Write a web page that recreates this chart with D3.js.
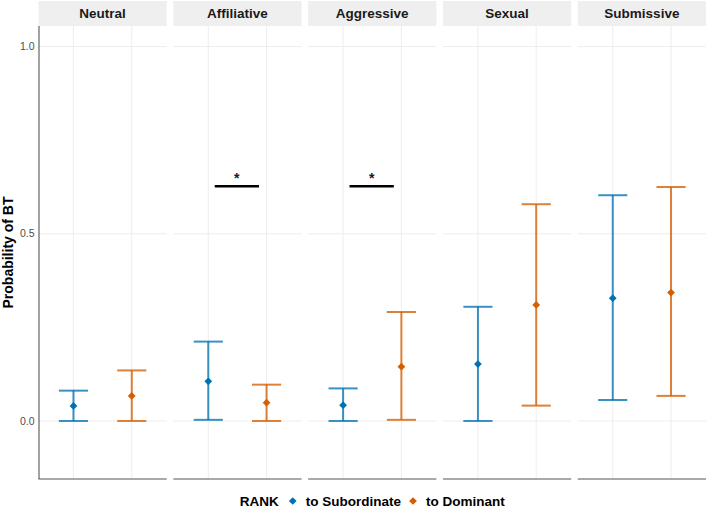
<!DOCTYPE html>
<html><head><meta charset="utf-8">
<script src="https://cdn.jsdelivr.net/npm/d3@7"></script>
<style>body{margin:0;background:#fff} svg{display:block;font-family:"Liberation Sans",Arial,sans-serif}</style>
</head><body><svg id="c" width="708" height="510"></svg>
<script>
// ---- data ----
const behaviours = ["Neutral","Affiliative","Aggressive","Sexual","Submissive"];
const ranks = ["to Subordinate","to Dominant"];
const estSub = [0.040,0.106,0.042,0.152,0.328];
const lowSub = [0.000,0.003,0.000,0.000,0.056];
const upSub  = [0.081,0.212,0.087,0.305,0.603];
const estDom = [0.067,0.049,0.145,0.310,0.343];
const lowDom = [0.000,0.000,0.003,0.041,0.067];
const upDom  = [0.135,0.097,0.291,0.579,0.625];
const sigPanels = ["Affiliative","Aggressive"];
const sigY = 0.627;
const sigLabel = "*";
const yTicks = [0,0.5,1.0];
const yTickLabels = ["0.0","0.5","1.0"];
const legendTitle = "RANK";
const yTitle = "Probability of BT";
const pointColors = ["#0072B2","#D55E00"];

// ---- layout ----
(function(){
const svg = d3.select("#c");
const pTop = 26, pBottom = 479, pLeft = 38.5, pRight = 706, stripTop = 1;
const y = d3.scaleLinear().domain([-0.155,1.055]).range([pBottom, pTop]);
const fx = d3.scaleBand().domain(behaviours).range([pLeft,pRight]).paddingInner(0.049);
const bw = fx.bandwidth();
const x = d3.scalePoint().domain(ranks).range([0,bw]).padding(0.6);
const step = x.step();
const color = d3.scaleOrdinal().domain(ranks).range(pointColors);

const rows = [];
behaviours.forEach((b,i)=>{
  rows.push({b, r:ranks[0], est:estSub[i], lo:lowSub[i], hi:upSub[i]});
  rows.push({b, r:ranks[1], est:estDom[i], lo:lowDom[i], hi:upDom[i]});
});

const diamond = d3.symbol().type(d3.symbolSquare).size(30);

behaviours.forEach(b=>{
  const g = svg.append("g").attr("transform",`translate(${fx(b)},0)`);
  g.append("rect").attr("x",0).attr("y",stripTop).attr("width",bw).attr("height",pTop-stripTop).attr("fill","#efefef");
  g.append("text").attr("x",bw/2).attr("y",(stripTop+pTop)/2).attr("dy","0.36em")
    .attr("text-anchor","middle").attr("font-weight","bold").attr("font-size",13.5).attr("fill","#1a1a1a").text(b);
  g.selectAll("line.gy").data(yTicks).join("line").attr("class","gy").attr("x1",0).attr("x2",bw)
    .attr("y1",d=>y(d)).attr("y2",d=>y(d)).attr("stroke","#ebebeb").attr("stroke-width",0.9);
  g.selectAll("line.gx").data(ranks).join("line").attr("class","gx").attr("x1",d=>x(d)).attr("x2",d=>x(d))
    .attr("y1",pTop).attr("y2",pBottom).attr("stroke","#ebebeb").attr("stroke-width",0.9);
  g.append("line").attr("x1",0).attr("x2",bw).attr("y1",pBottom).attr("y2",pBottom).attr("stroke","#555").attr("stroke-width",1.1);
  const data = rows.filter(d=>d.b===b);
  const eb = g.selectAll("g.eb").data(data).join("g").attr("class","eb").attr("stroke",d=>color(d.r)).attr("stroke-opacity",0.78).attr("stroke-width",2);
  eb.append("line").attr("x1",d=>x(d.r)).attr("x2",d=>x(d.r)).attr("y1",d=>y(d.lo)).attr("y2",d=>y(d.hi));
  eb.append("line").attr("x1",d=>x(d.r)-step*0.25).attr("x2",d=>x(d.r)+step*0.25).attr("y1",d=>y(d.lo)).attr("y2",d=>y(d.lo));
  eb.append("line").attr("x1",d=>x(d.r)-step*0.25).attr("x2",d=>x(d.r)+step*0.25).attr("y1",d=>y(d.hi)).attr("y2",d=>y(d.hi));
  g.selectAll("path.pt").data(data).join("path").attr("class","pt").attr("d",diamond)
    .attr("transform",d=>`translate(${x(d.r)},${y(d.est)}) rotate(45)`).attr("fill",d=>color(d.r));
  if (sigPanels.includes(b)) {
    g.append("line").attr("x1",x(ranks[0])+step*0.11).attr("x2",x(ranks[1])-step*0.13)
      .attr("y1",y(sigY)).attr("y2",y(sigY)).attr("stroke","#000").attr("stroke-width",2.5);
    g.append("text").attr("x",(x(ranks[0])+x(ranks[1]))/2 - 0.01*step).attr("y",y(sigY)-3)
      .attr("text-anchor","middle").attr("font-size",14).attr("font-weight","bold").attr("fill","#1a1a1a").text(sigLabel);
  }
});

svg.append("line").attr("x1",pLeft+0.5).attr("x2",pLeft+0.5).attr("y1",pTop).attr("y2",pBottom).attr("stroke","#555").attr("stroke-width",1.1);
svg.selectAll("text.yt").data(yTicks).join("text").attr("class","yt").attr("x",34.5).attr("y",d=>y(d)).attr("dy","0.35em")
  .attr("text-anchor","end").attr("font-size",10.5).attr("fill","#4d4d4d").text((d,i)=>yTickLabels[i]);
svg.append("text").attr("transform",`translate(13,${(pTop+pBottom)/2}) rotate(-90)`).attr("text-anchor","middle")
  .attr("font-size",14).attr("font-weight","bold").attr("fill","#000").text(yTitle);

const lg = svg.append("g");
const ly = 501;
const t0 = lg.append("text").attr("x",0).attr("y",ly).attr("dy","0.35em").attr("font-size",13.5).attr("font-weight","bold").text(legendTitle);
let cx = t0.node().getComputedTextLength() + 14;
ranks.forEach((r,i)=>{
  lg.append("path").attr("d",diamond).attr("transform",`translate(${cx},${ly}) rotate(45)`).attr("fill",color(r));
  const t = lg.append("text").attr("x",cx+13).attr("y",ly).attr("dy","0.35em").attr("font-size",13.5).attr("font-weight","bold").text(r);
  cx = cx + 13 + t.node().getComputedTextLength() + 12;
});
const lw = cx - 12;
lg.attr("transform",`translate(${(pLeft+pRight)/2 - lw/2},0)`);
})();
</script></body></html>
